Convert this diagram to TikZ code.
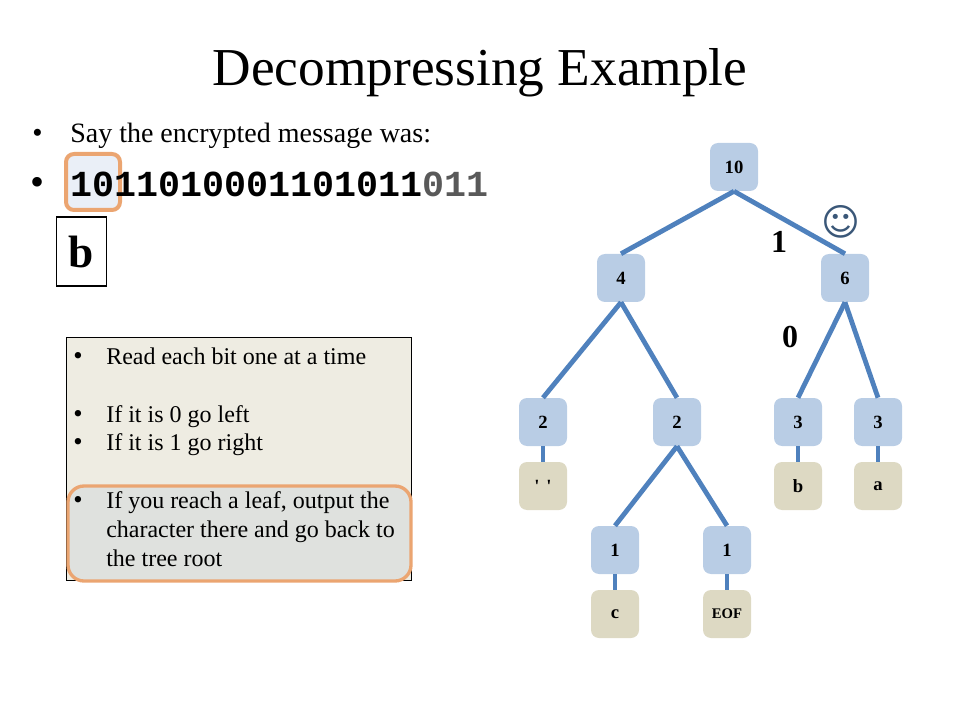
\documentclass[tikz,border=0pt]{standalone}
\usepackage{fontspec}
\setmainfont{Liberation Serif}
\setmonofont{Liberation Mono}
\newfontfamily\symfont{DejaVu Sans}
\usetikzlibrary{positioning}
\definecolor{nodeblue}{HTML}{B9CDE5}
\definecolor{leaftan}{HTML}{DDD9C3}
\definecolor{edgeblue}{HTML}{4F81BD}
\definecolor{hiorange}{HTML}{EBA571}
\definecolor{boxbeige}{HTML}{EEECE2}
\definecolor{hifill}{HTML}{DFE1DE}
\definecolor{bitfill}{HTML}{EAEFF7}
\definecolor{msggray}{HTML}{595959}
\definecolor{smile}{HTML}{3A5778}
\begin{document}
\begin{tikzpicture}[x=0.75pt, y=-0.75pt,
    tnode/.style={fill=nodeblue, rounded corners=6pt, minimum width=36pt, minimum height=36pt, inner sep=0pt, font=\fontsize{14}{16}\selectfont\bfseries},
    leaf/.style={tnode, fill=leaftan},
    branch/.style={draw=edgeblue, line width=3.6pt},
    rule/.style={anchor=base west, inner sep=0pt, font=\fontsize{18}{21}\selectfont},
    bitlabel/.style={font=\fontsize{24}{28}\selectfont\bfseries, inner sep=0pt}]
    \useasboundingbox (0,0) rectangle (960,720);
    % Title
    \node[anchor=base, font=\fontsize{40}{46}\selectfont] (title) at (480,86) {Decompressing Example};

    % Message
    \node[rule, font=\fontsize{22}{24}\selectfont] (dot1) at (32,143) {\textbullet};
    \node[rule, font=\fontsize{21}{24}\selectfont] (say) at (70,143) {Say the encrypted message was:};
    \draw[hiorange, line width=3pt, fill=bitfill, rounded corners=6pt] (66,154) rectangle (120,210);
    \node[rule, font=\fontsize{30}{32}\selectfont] (dot2) at (30,196) {\textbullet};
    \node[rule, font=\fontsize{27.5}{30}\selectfont\ttfamily\bfseries] (msg) at (70,197) {1011010001101011\textcolor{msggray}{011}};
    \node[draw, line width=0.8pt, minimum width=37.5pt, minimum height=51.75pt, inner sep=0pt, font=\fontsize{34}{38}\selectfont\bfseries] (out) at (81.5,251.5) {b};

    % Rules box
    \draw[fill=boxbeige, line width=0.75pt] (66,337) rectangle (411,580);
    \draw[hiorange, line width=2.5pt, fill=hifill, rounded corners=12pt] (68,486) rectangle (411,581);
    \node[rule, font=\fontsize{20}{21}\selectfont] (r1dot) at (73,364) {\textbullet};
    \node[rule] (r1) at (106,364) {Read each bit one at a time};
    \node[rule, font=\fontsize{20}{21}\selectfont] (r2dot) at (73,422) {\textbullet};
    \node[rule] (r2) at (106,422) {If it is 0 go left};
    \node[rule, font=\fontsize{20}{21}\selectfont] (r3dot) at (73,450) {\textbullet};
    \node[rule] (r3) at (106,450) {If it is 1 go right};
    \node[rule, font=\fontsize{20}{21}\selectfont] (r4dot) at (73,508) {\textbullet};
    \node[rule] (r4) at (106,508) {If you reach a leaf, output the};
    \node[rule] (r5) at (106,537) {character there and go back to};
    \node[rule] (r6) at (106,566) {the tree root};

    % Tree
    \node[tnode] (n10) at (734,167) {10};
    \node[tnode] (n4) at (621,278) {4};
    \node[tnode] (n6) at (845,278) {6};
    \node[tnode] (n2a) at (543,422) {2};
    \node[tnode] (n2b) at (677,422) {2};
    \node[tnode] (n3a) at (798,422) {3};
    \node[tnode] (n3b) at (878,422) {3};
    \node[leaf] (sp) at (543,486) {\textquotesingle\hspace{5pt}\textquotesingle};
    \node[leaf] (lb) at (798,486) {b};
    \node[leaf] (la) at (878,486) {a};
    \node[tnode] (n1a) at (615,550) {1};
    \node[tnode] (n1b) at (727,550) {1};
    \node[leaf] (lc) at (615,614) {c};
    \node[leaf, font=\fontsize{11}{13}\selectfont\bfseries] (eof) at (727,614) {EOF};

    \draw[branch] (n10.south) -- (n4.north);
    \draw[branch] (n10.south) -- (n6.north);
    \draw[branch] (n4.south) -- (n2a.north);
    \draw[branch] (n4.south) -- (n2b.north);
    \draw[branch] (n6.south) -- (n3a.north);
    \draw[branch] (n6.south) -- (n3b.north);
    \draw[branch] (n2b.south) -- (n1a.north);
    \draw[branch] (n2b.south) -- (n1b.north);
    \draw[branch] (n2a.south) -- (sp.north);
    \draw[branch] (n3a.south) -- (lb.north);
    \draw[branch] (n3b.south) -- (la.north);
    \draw[branch] (n1a.south) -- (lc.north);
    \draw[branch] (n1b.south) -- (eof.north);

    % Path labels
    \node[bitlabel] (one) at (779,242) {1};
    \node[bitlabel] (zero) at (790,337) {0};
    \node[text=smile, font=\fontsize{28}{30}\selectfont\symfont\bfseries, inner sep=0pt] (happy) at (841,222) {☺};
\end{tikzpicture}
\end{document}
